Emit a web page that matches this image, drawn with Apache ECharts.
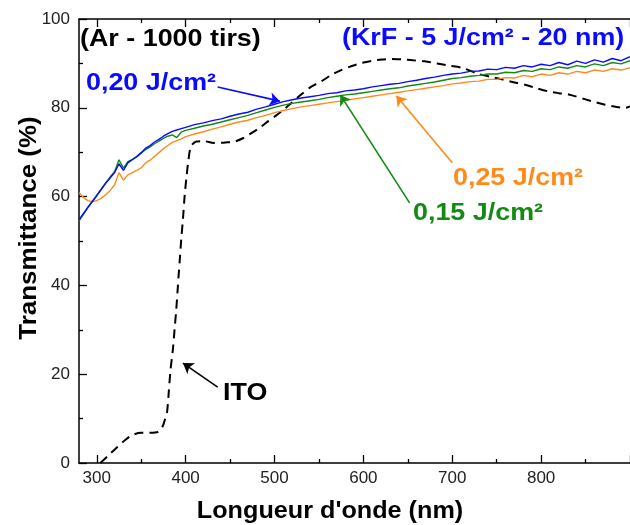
<!DOCTYPE html>
<html>
<head>
<meta charset="utf-8">
<script src="https://cdn.jsdelivr.net/npm/echarts@6/dist/echarts.min.js"></script>
<style>
html, body { margin: 0; padding: 0; background: #fff; }
#chart { width: 630px; height: 525px; }
</style>
</head>
<body>
<div id="chart"></div>
<script>
// longueur d'onde (nm) des spectres des films
const wavelength = [280, 285, 290, 295, 300, 305, 310, 315, 320, 325, 330, 335, 340, 345, 350, 355, 360, 365, 370, 375, 380, 385, 390, 395, 400,
  410, 420, 430, 440, 450, 460, 470, 480, 490, 500, 510, 520, 530, 540, 550, 560, 570, 580, 590, 600,
  610, 620, 630, 640, 650, 660, 670, 680, 690, 700, 710, 720, 730, 740, 750, 760, 770, 780, 790, 800,
  810, 820, 830, 840, 850, 860, 870, 880, 890, 900];

// 0,20 J/cm²
const t020 = [54.8, 56.2, 57.6, 58.9, 60.2, 61.6, 63.0, 64.2, 65.4, 67.4, 65.9, 67.6, 68.3, 69.0, 69.9, 70.9, 71.5, 72.3, 72.9, 73.6, 74.2, 74.7, 75.0, 75.3, 75.6,
  76.2, 76.6, 77.1, 77.5, 78.1, 78.6, 79.0, 79.7, 80.2, 80.8, 81.4, 81.8, 82.2, 82.5, 82.8, 83.2, 83.4, 83.8, 84.0, 84.3,
  84.7, 85.0, 85.3, 85.5, 85.9, 86.2, 86.6, 86.9, 87.3, 87.6, 87.8, 88.2, 88.3, 88.7, 88.6, 89.1, 88.9, 89.5, 89.2, 89.8,
  89.5, 90.2, 89.7, 90.5, 90.0, 90.8, 90.3, 91.1, 90.6, 91.5];

// 0,15 J/cm²
const t015 = [54.5, 56.0, 57.5, 58.9, 60.3, 61.7, 63.1, 64.4, 65.6, 68.3, 66.4, 67.9, 68.4, 69.0, 69.8, 70.6, 71.2, 71.9, 72.5, 73.1, 73.6, 73.9, 73.3, 74.5, 74.9,
  75.4, 75.9, 76.3, 76.8, 77.3, 77.8, 78.3, 78.9, 79.5, 80.1, 80.6, 81.0, 81.3, 81.6, 81.9, 82.3, 82.6, 82.9, 83.1, 83.4,
  83.7, 84.0, 84.3, 84.5, 84.9, 85.2, 85.5, 85.8, 86.2, 86.6, 86.8, 87.1, 87.3, 87.6, 87.6, 88.0, 87.9, 88.4, 88.2, 88.8,
  88.6, 89.2, 88.9, 89.5, 89.2, 89.9, 89.5, 90.2, 89.9, 90.6];

// 0,25 J/cm²
const t025 = [60.9, 59.8, 59.1, 58.9, 59.1, 59.6, 60.4, 61.4, 62.6, 65.4, 63.7, 64.9, 65.4, 65.9, 66.5, 67.6, 68.2, 69.1, 69.9, 70.8, 71.5, 72.2, 72.6, 73.0, 73.5,
  74.1, 74.6, 75.2, 75.7, 76.3, 76.8, 77.2, 77.8, 78.3, 78.9, 79.4, 79.8, 80.2, 80.5, 80.8, 81.1, 81.4, 81.7, 82.0, 82.3,
  82.6, 82.9, 83.2, 83.5, 83.8, 84.1, 84.4, 84.7, 85.0, 85.4, 85.6, 85.9, 86.0, 86.4, 86.4, 86.8, 86.7, 87.3, 87.0, 87.6,
  87.3, 87.9, 87.6, 88.2, 87.9, 88.5, 88.2, 88.8, 88.5, 89.0];

// ITO
const itoWavelength = [304, 312, 322, 332, 340, 350, 360, 369, 374, 377, 379, 381, 383, 385.6, 387.5, 389.4, 391, 392, 393.5, 395, 397, 398.8, 401, 403, 406,
  412, 420, 432, 445, 455, 465, 474, 484, 493, 500, 508, 515, 530, 541, 553, 564, 575, 587, 598, 610, 621, 632, 643, 656, 669, 683, 696,
  711, 730, 745, 756, 770, 782, 795, 808, 820, 831, 850, 862, 872, 885, 895, 900];
const itoT = [0, 1.5, 3.4, 5.2, 6.3, 6.8, 6.8, 7.0, 8.2, 10, 11.3, 16, 21, 25.5, 30, 34.5, 39, 42, 46, 50.3, 55, 60, 64.5, 68, 71.3,
  72.4, 72.5, 72.1, 72.2, 72.4, 73.2, 74.3, 75.6, 77.0, 78.0, 79.2, 80.4, 83.0, 84.7, 86.0, 87.4, 88.5, 89.4, 90.1, 90.6, 90.9, 91.0, 90.9, 90.7, 90.5, 90.0, 89.5,
  89.0, 87.6, 86.9, 86.4, 85.7, 85.2, 84.4, 83.7, 83.3, 83.0, 81.9, 81.2, 80.7, 80.2, 80.0, 80.3];

// graduations
const xMajorTicks = [300, 400, 500, 600, 700, 800, 900];
const xMinorTicks = [350, 450, 550, 650, 750, 850];
const xLabels = [300, 400, 500, 600, 700, 800];
const yMinorTicks = [10, 30, 50, 70, 90];

// flèches [nm, %] -> [nm, %]
const arrow020 = [[436, 84.7], [506, 81.5]];
const arrow015 = [[652, 58.6], [574, 82.9]];
const arrow025 = [[700, 67.6], [637, 82.7]];
const arrowIto = [[436, 17.1], [397, 22.5]];

const BLUE = '#0a0aff';
const GREEN = '#138a13';
const ORANGE = '#ff8a1c';
const FONT = 'Liberation Sans, Arial, sans-serif';

const pairs = (xs, ys) => xs.map((x, i) => [x, ys[i]]);

const arrowLine = (seg, color) => ({
  silent: true,
  symbol: ['none', 'arrow'],
  symbolSize: 10,
  label: { show: false },
  lineStyle: { color: color, width: 1.6, type: 'solid' },
  emphasis: { disabled: true },
  data: [[{ coord: seg[0] }, { coord: seg[1] }]]
});

const tickStyle = { color: '#000', width: 1.3 };

const label = (txt, x, y, color, size, sx) => ({
  type: 'text',
  x: x, y: y,
  scaleX: sx,
  style: {
    text: txt,
    fill: color,
    font: 'bold ' + size + 'px ' + FONT,
    textAlign: 'left',
    textVerticalAlign: 'middle'
  }
});

const chart = echarts.init(document.getElementById('chart'));
chart.setOption({
  animation: false,
  backgroundColor: '#fff',
  grid: [
    { left: 79, right: 0, top: 19, bottom: 62 },
    { left: 79, right: 0, top: 19, bottom: 62 }
  ],
  xAxis: [
    {
      type: 'value', gridIndex: 0, position: 'bottom', min: 280, max: 900,
      axisLine: { lineStyle: { color: '#000', width: 1.5 } },
      axisTick: { inside: true, length: 8, customValues: xMajorTicks, lineStyle: tickStyle },
      axisLabel: { customValues: xLabels, color: '#222', fontSize: 17, fontFamily: FONT, margin: 7 },
      splitLine: { show: false }
    },
    {
      type: 'value', gridIndex: 0, position: 'top', min: 280, max: 900,
      axisLine: { lineStyle: { color: '#000', width: 1.5 } },
      axisTick: { inside: true, length: 8, customValues: xMajorTicks, lineStyle: tickStyle },
      axisLabel: { show: false },
      splitLine: { show: false }
    },
    {
      type: 'value', gridIndex: 1, position: 'bottom', min: 280, max: 900,
      axisLine: { show: false },
      axisTick: { inside: true, length: 4, customValues: xMinorTicks, lineStyle: tickStyle },
      axisLabel: { show: false },
      splitLine: { show: false }
    },
    {
      type: 'value', gridIndex: 1, position: 'top', min: 280, max: 900,
      axisLine: { show: false },
      axisTick: { inside: true, length: 4, customValues: xMinorTicks, lineStyle: tickStyle },
      axisLabel: { show: false },
      splitLine: { show: false }
    }
  ],
  yAxis: [
    {
      type: 'value', gridIndex: 0, position: 'left', min: 0, max: 100, interval: 20,
      axisLine: { show: true, lineStyle: { color: '#000', width: 1.5 } },
      axisTick: { show: true, inside: true, length: 8, lineStyle: tickStyle },
      axisLabel: { color: '#222', fontSize: 17, fontFamily: FONT, margin: 9 },
      splitLine: { show: false }
    },
    {
      type: 'value', gridIndex: 1, position: 'left', min: 0, max: 100,
      axisLine: { show: false },
      axisTick: { show: true, inside: true, length: 4, customValues: yMinorTicks, lineStyle: tickStyle },
      axisLabel: { show: false },
      splitLine: { show: false }
    }
  ],
  series: [
    {
      name: 'ITO', type: 'line', xAxisIndex: 0, yAxisIndex: 0,
      data: pairs(itoWavelength, itoT),
      showSymbol: false, smooth: 0.3,
      lineStyle: { color: '#000', width: 2, type: [9, 6] },
      markLine: arrowLine(arrowIto, '#000')
    },
    {
      name: '0,25 J/cm²', type: 'line', xAxisIndex: 0, yAxisIndex: 0,
      data: pairs(wavelength, t025),
      showSymbol: false,
      lineStyle: { color: ORANGE, width: 1.4 },
      markLine: arrowLine(arrow025, ORANGE)
    },
    {
      name: '0,15 J/cm²', type: 'line', xAxisIndex: 0, yAxisIndex: 0,
      data: pairs(wavelength, t015),
      showSymbol: false,
      lineStyle: { color: GREEN, width: 1.4 },
      markLine: arrowLine(arrow015, GREEN)
    },
    {
      name: '0,20 J/cm²', type: 'line', xAxisIndex: 0, yAxisIndex: 0,
      data: pairs(wavelength, t020),
      showSymbol: false,
      lineStyle: { color: BLUE, width: 1.4 },
      markLine: arrowLine(arrow020, BLUE)
    }
  ],
  graphic: [
    label('(Ar - 1000 tirs)', 80, 39, '#000', 24, 1.12),
    label('(KrF - 5 J/cm² - 20 nm)', 342, 38, BLUE, 24, 1.12),
    label('0,20 J/cm²', 86, 83, BLUE, 24, 1.12),
    label('0,25 J/cm²', 453, 178, ORANGE, 24, 1.12),
    label('0,15 J/cm²', 413, 213, GREEN, 24, 1.12),
    label('ITO', 223, 393, '#000', 24, 1.12),
    {
      type: 'text', x: 330, y: 511, scaleX: 1.05,
      style: { text: "Longueur d'onde (nm)", fill: '#000', font: 'bold 24px ' + FONT, textAlign: 'center', textVerticalAlign: 'middle' }
    },
    {
      type: 'text', x: 29, y: 228, rotation: Math.PI / 2, scaleX: 1.08,
      style: { text: 'Transmittance (%)', fill: '#000', font: 'bold 24px ' + FONT, textAlign: 'center', textVerticalAlign: 'middle' }
    }
  ]
});
</script>
</body>
</html>
